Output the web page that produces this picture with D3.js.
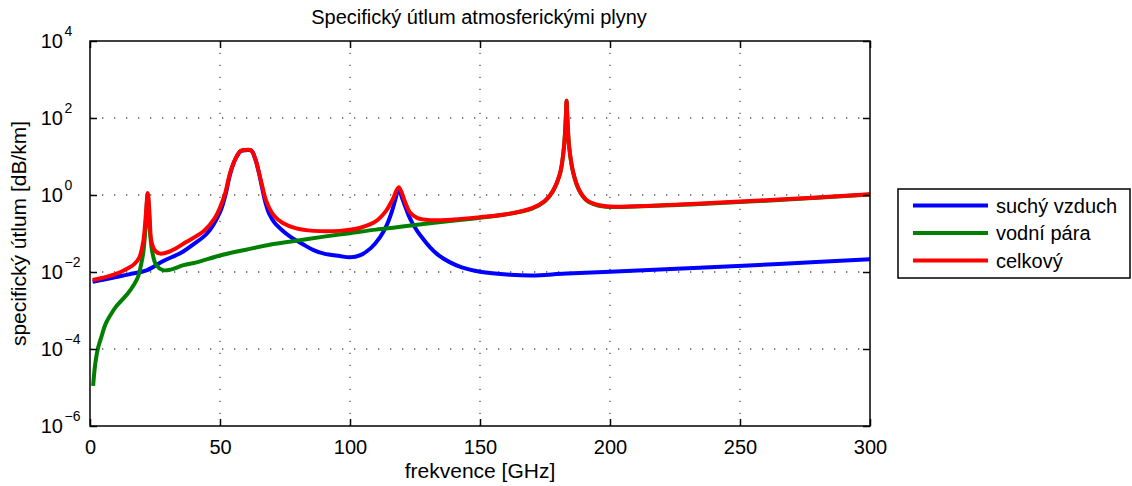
<!DOCTYPE html>
<html>
<head>
<meta charset="utf-8">
<script src="https://cdn.jsdelivr.net/npm/d3@7"></script>
<style>
  body { margin: 0; background: #fff; }
  text { font-family: Arial, "Liberation Sans", sans-serif; fill: #000; }
</style>
</head>
<body>
<div id="chartArea"></div>
<script>
// values (frequency in GHz, attenuation in dB/km)
var dryFreq = [1, 5, 10, 15, 22, 28, 35, 40, 45, 50, 52, 54, 56, 58, 60, 62, 63.5, 65, 66, 67.5, 69, 71, 74, 77, 82, 86, 90, 96, 100, 104, 108, 111.5, 114, 116, 117.5, 118.75, 120, 121, 122.5, 124, 126, 128, 130.8, 134, 138.5, 143, 150, 161.5, 170, 183, 200, 230, 265, 300];
var dryVal = [0.0056, 0.0063, 0.0074, 0.0087, 0.0112, 0.019, 0.0316, 0.054, 0.1, 0.36, 0.95, 3.7, 8.8, 13.8, 14.6, 14.3, 8.9, 3.7, 1.78, 0.63, 0.316, 0.19, 0.12, 0.083, 0.052, 0.037, 0.030, 0.026, 0.024, 0.0275, 0.0417, 0.079, 0.158, 0.355, 0.79, 1.45, 0.85, 0.56, 0.30, 0.186, 0.112, 0.074, 0.0437, 0.0275, 0.0178, 0.0132, 0.0102, 0.0085, 0.0081, 0.0091, 0.0102, 0.0126, 0.0162, 0.0214];

var vaporFreq = [1.2, 2, 3, 4.5, 6, 8, 10, 12, 14.6, 17, 18.5, 19.5, 20.5, 21.3, 22.2, 23, 24, 25.5, 28, 31, 36, 41, 50, 60, 70, 80, 90, 100, 110, 118, 125, 135, 145, 155, 165, 170, 175, 178, 180.8, 182.3, 183, 183.3, 183.6, 184.3, 185.8, 188, 191, 195, 200, 210, 235, 265, 300];
var vaporVal = [1.1e-5, 4.0e-5, 1.0e-4, 2.2e-4, 4.5e-4, 7.9e-4, 1.26e-3, 1.78e-3, 2.8e-3, 4.8e-3, 7.6e-3, 0.014, 0.032, 0.126, 1.05, 0.126, 0.032, 0.015, 0.0112, 0.0115, 0.0151, 0.0178, 0.0269, 0.038, 0.0525, 0.066, 0.083, 0.102, 0.126, 0.145, 0.166, 0.2, 0.234, 0.28, 0.36, 0.44, 0.69, 1.23, 3.6, 17.5, 99, 280, 99, 17.5, 3.9, 1.38, 0.72, 0.54, 0.49, 0.5, 0.58, 0.74, 1.03];

var totalFreq = [1, 5, 10, 14.6, 17, 19, 20.5, 21.5, 22.2, 22.9, 23.6, 25, 27, 31, 37, 44, 48, 50, 52, 54, 56, 58, 60, 62, 63.5, 65, 66, 67.5, 69, 71, 74, 79, 86, 96, 104, 110, 114, 116.5, 118.75, 121, 123, 126, 131, 140, 150, 160, 170, 175, 178, 180.8, 182.3, 183, 183.3, 183.6, 184.3, 185.8, 188, 191, 195, 200, 210, 235, 265, 300];
var totalVal = [0.0062, 0.0071, 0.0089, 0.0126, 0.016, 0.024, 0.063, 0.32, 1.12, 0.32, 0.063, 0.036, 0.030, 0.035, 0.06, 0.12, 0.25, 0.47, 1.12, 4, 8.9, 14.1, 14.8, 14.5, 9, 3.8, 2.0, 0.79, 0.45, 0.28, 0.19, 0.138, 0.117, 0.117, 0.141, 0.209, 0.398, 0.79, 1.6, 0.71, 0.355, 0.251, 0.222, 0.232, 0.266, 0.316, 0.457, 0.71, 1.26, 3.7, 17.8, 100, 282, 100, 17.8, 4.0, 1.41, 0.74, 0.56, 0.5, 0.51, 0.6, 0.76, 1.05];

var seriesNames = ["suchý vzduch", "vodní pára", "celkový"];
var seriesColors = ["#0000ff", "#008000", "#ff0000"];
var xTicks = [0, 50, 100, 150, 200, 250, 300];
var yExponents = [-6, -4, -2, 0, 2, 4];

var width = 1132, height = 486;
var margin = {top: 41, right: 262, bottom: 60, left: 90};
var plotW = width - margin.left - margin.right;   // 780
var plotH = height - margin.top - margin.bottom;  // 385

var xscale = d3.scaleLinear().domain([0, 300]).range([margin.left, margin.left + plotW]);
var yscale = d3.scaleLog().domain([1e-6, 1e4]).range([margin.top + plotH, margin.top]);

var svg = d3.select('#chartArea').append('svg')
    .attr("width", width)
    .attr("height", height);

// dotted grid
var grid = svg.append("g").attr("stroke", "#555").attr("stroke-width", 1.3)
    .attr("stroke-dasharray", "1.3,10.7");
grid.selectAll("line.gx").data(xTicks.slice(1, -1)).enter().append("line")
    .attr("x1", function(d){ return xscale(d); }).attr("x2", function(d){ return xscale(d); })
    .attr("y1", margin.top + plotH).attr("y2", margin.top);
grid.selectAll("line.gy").data(yExponents.slice(1, -1)).enter().append("line")
    .attr("y1", function(d){ return yscale(Math.pow(10, d)); }).attr("y2", function(d){ return yscale(Math.pow(10, d)); })
    .attr("x1", margin.left).attr("x2", margin.left + plotW);

// curves
var line = d3.line()
    .x(function(d){ return xscale(d[0]); })
    .y(function(d){ return yscale(d[1]); })
    .curve(d3.curveCatmullRom.alpha(0.5));

var series = [
    d3.zip(dryFreq, dryVal),
    d3.zip(vaporFreq, vaporVal),
    d3.zip(totalFreq, totalVal)
];
svg.append("g").selectAll("path").data(series).enter().append("path")
    .attr("d", line)
    .attr("fill", "none")
    .attr("stroke", function(d, i){ return seriesColors[i]; })
    .attr("stroke-width", 4)
    .attr("stroke-linejoin", "round");

// axes: ticks inside on all four sides
var tickLen = 7;
svg.append('g')
    .attr('transform', 'translate(0,' + (margin.top + plotH) + ')')
    .call(d3.axisBottom(xscale).tickValues(xTicks).tickSize(-tickLen).tickPadding(14))
    .call(function(g){ g.select(".domain").remove(); });
svg.append('g')
    .attr('transform', 'translate(0,' + margin.top + ')')
    .call(d3.axisTop(xscale).tickValues(xTicks).tickSize(-tickLen).tickFormat(""))
    .call(function(g){ g.select(".domain").remove(); });
svg.append('g')
    .attr('transform', 'translate(' + margin.left + ',0)')
    .call(d3.axisLeft(yscale).tickValues(yExponents.map(function(e){ return Math.pow(10, e); })).tickSize(-tickLen).tickFormat(""))
    .call(function(g){ g.select(".domain").remove(); });
svg.append('g')
    .attr('transform', 'translate(' + (margin.left + plotW) + ',0)')
    .call(d3.axisRight(yscale).tickValues(yExponents.map(function(e){ return Math.pow(10, e); })).tickSize(-tickLen).tickFormat(""))
    .call(function(g){ g.select(".domain").remove(); });
svg.selectAll(".tick line").attr("stroke", "#000").attr("stroke-width", 1.5);
svg.selectAll(".tick text").style("font-size", "20px").attr("font-family", "Arial, 'Liberation Sans', sans-serif").attr("fill", "#000");

svg.append("rect")
    .attr("x", margin.left).attr("y", margin.top)
    .attr("width", plotW).attr("height", plotH)
    .attr("fill", "none").attr("stroke", "#000").attr("stroke-width", 1.5);

// y tick labels 10^n
var ylab = svg.append("g").selectAll("g").data(yExponents).enter().append("g");
ylab.append("text")
    .attr("x", 63).attr("y", function(d){ return yscale(Math.pow(10, d)) + 7; })
    .attr("text-anchor", "end").style("font-size", "20px")
    .text("10");
ylab.append("text")
    .attr("x", 64.5).attr("y", function(d){ return yscale(Math.pow(10, d)) - 5; })
    .attr("text-anchor", "start").style("font-size", "14px")
    .text(function(d){ return d < 0 ? "\u2212" + (-d) : String(d); });

// titles
svg.append("text")
    .attr("x", xscale(150) - 1).attr("y", 24)
    .attr("text-anchor", "middle").style("font-size", "20px")
    .text("Specifický útlum atmosferickými plyny");
svg.append("text")
    .attr("x", xscale(150)).attr("y", 478)
    .attr("text-anchor", "middle").style("font-size", "21px")
    .text("frekvence [GHz]");
svg.append("text")
    .attr("transform", "translate(26," + (margin.top + plotH / 2) + ") rotate(-90)")
    .attr("text-anchor", "middle").style("font-size", "21px")
    .text("specifický útlum [dB/km]");

// legend
var legend = svg.append("g").attr("transform", "translate(898,189)");
legend.append("rect")
    .attr("width", 232).attr("height", 89)
    .attr("fill", "#fff").attr("stroke", "#000").attr("stroke-width", 1.5);
var items = legend.selectAll("g.item").data(seriesNames).enter().append("g")
    .attr("transform", function(d, i){ return "translate(0," + (16.5 + i * 27.5) + ")"; });
items.append("line")
    .attr("x1", 15).attr("x2", 90)
    .attr("stroke", function(d, i){ return seriesColors[i]; })
    .attr("stroke-width", 4);
items.append("text")
    .attr("x", 98).attr("y", 7)
    .style("font-size", "20px")
    .text(function(d){ return d; });
</script>
</body>
</html>
